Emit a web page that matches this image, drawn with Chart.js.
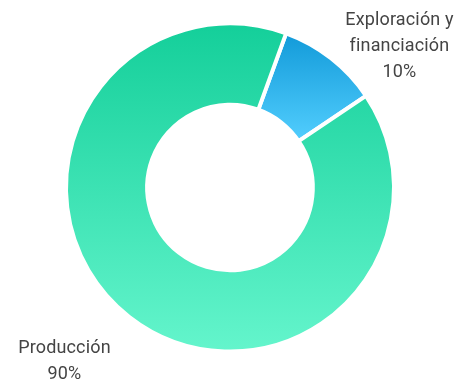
<!DOCTYPE html>
<html>
<head>
<meta charset="utf-8">
<script src="https://cdn.jsdelivr.net/npm/chart.js@4.4.1/dist/chart.umd.min.js"></script>
<style>
  html, body { margin: 0; padding: 0; background: #ffffff; }
  #wrap { width: 455px; height: 379px; position: relative; }
</style>
</head>
<body>
<div id="wrap"><canvas id="c" width="455" height="379"></canvas></div>
<script>
const categories = ["Exploración y financiación", "Producción"];
const labelLines = [["Exploración y", "financiación"], ["Producción"]];
const values = [10, 90];
const percentLabels = ["10%", "90%"];
const gradientStops = [["#129ad9", "#52cefe"], ["#14cf9a", "#64f5cc"]];

function arcYExtent(el) {
  const p = el.getProps(['x', 'y', 'startAngle', 'endAngle', 'innerRadius', 'outerRadius'], true);
  let minY = Infinity, maxY = -Infinity;
  const n = 200;
  for (let i = 0; i <= n; i++) {
    const a = p.startAngle + (p.endAngle - p.startAngle) * i / n;
    for (const r of [p.innerRadius, p.outerRadius]) {
      const y = p.y + r * Math.sin(a);
      if (y < minY) minY = y;
      if (y > maxY) maxY = y;
    }
  }
  return [minY, maxY];
}

const gradientPlugin = {
  id: 'arcGradients',
  beforeDatasetsDraw(chart) {
    const ctx = chart.ctx;
    const meta = chart.getDatasetMeta(0);
    meta.data.forEach((el, i) => {
      const [y0, y1] = arcYExtent(el);
      const g = ctx.createLinearGradient(0, y0, 0, y1);
      g.addColorStop(0, gradientStops[i][0]);
      g.addColorStop(1, gradientStops[i][1]);
      el.options.backgroundColor = g;
    });
  }
};

const labelPlugin = {
  id: 'outsideLabels',
  afterDraw(chart) {
    const ctx = chart.ctx;
    const meta = chart.getDatasetMeta(0);
    ctx.save();
    ctx.font = '18px Roboto, "Noto Sans", sans-serif';
    if ('letterSpacing' in ctx) ctx.letterSpacing = '0.15px';
    ctx.fillStyle = '#444444';
    ctx.textBaseline = 'alphabetic';
    ctx.textAlign = 'center';
    const lh = 26;
    meta.data.forEach((el, i) => {
      const p = el.getProps(['x', 'y', 'startAngle', 'endAngle', 'outerRadius'], true);
      const mid = (p.startAngle + p.endAngle) / 2;
      const r = p.outerRadius + 20;
      const ax = p.x + r * Math.cos(mid);
      const ay = p.y + r * Math.sin(mid);
      const lines = labelLines[i].concat([percentLabels[i]]);
      const w = Math.max(...lines.map(t => ctx.measureText(t).width));
      const right = Math.cos(mid) >= 0;
      const cx = right ? ax + 2 + w / 2 : ax - 6 - w / 2;
      const firstY = Math.sin(mid) < 0 ? ay - 18 : ay + 21;
      lines.forEach((t, k) => ctx.fillText(t, cx, firstY + k * lh));
    });
    ctx.restore();
  }
};

new Chart(document.getElementById('c'), {
  type: 'doughnut',
  data: {
    labels: categories,
    datasets: [{
      data: values,
      backgroundColor: gradientStops.map(s => s[0]),
      borderColor: '#ffffff',
      borderWidth: 4,
      hoverOffset: 0
    }]
  },
  options: {
    responsive: false,
    animation: false,
    rotation: 20,
    cutout: '50.5%',
    layout: { padding: { top: 21, bottom: 25, left: 64, right: 59 } },
    plugins: {
      legend: { display: false },
      tooltip: { enabled: false }
    }
  },
  plugins: [gradientPlugin, labelPlugin]
});
</script>
</body>
</html>
